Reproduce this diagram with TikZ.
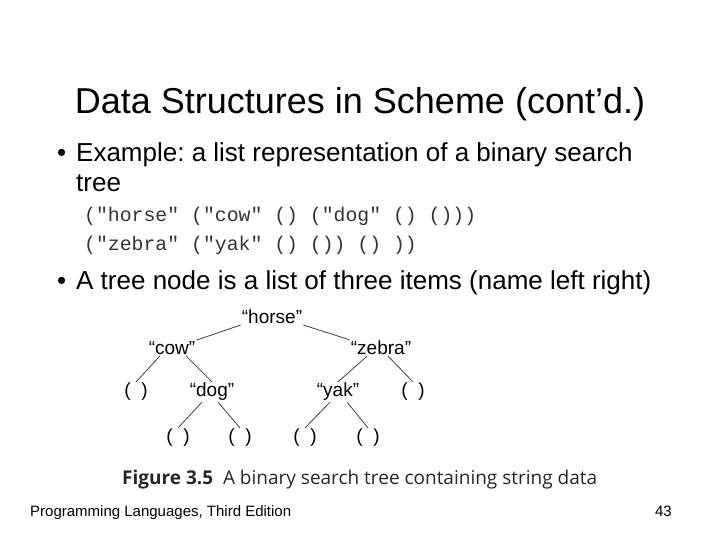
\documentclass[tikz,border=0pt]{standalone}
\usepackage{fontspec}
\setmainfont{Liberation Sans}
\setmonofont{Liberation Mono}
\newfontfamily\capfont{Open Sans}
\frenchspacing

\tikzset{
	slidetext/.style={anchor=base west, inner sep=0pt, font=\fontsize{26}{30}\selectfont},
	codetext/.style={anchor=base west, inner sep=0pt, font=\ttfamily\fontsize{19.8}{22}\selectfont, text=black!80},
	tnode/.style={inner sep=1pt, font=\fontsize{19}{21}\selectfont},
	tedge/.style={draw=black!75, line width=0.8pt}
}

\begin{document}
\begin{tikzpicture}[x=1pt, y=-1pt]
			\useasboundingbox (0, 0) rectangle (720, 540);
			\node[anchor=base, inner sep=0pt, font=\fontsize{36}{40}\selectfont](T1) at (360, 114){Data Structures in Scheme (cont’d.)};
			\node[slidetext](B1) at (57, 162){•};
			\node[slidetext](L1) at (76, 162){Example: a list representation of a binary search};
			\node[slidetext](L2) at (76, 192){tree};
			\node[codetext](C1) at (84, 222){("horse" ("cow" () ("dog" () ()))};
			\node[codetext](C2) at (84, 250){("zebra" ("yak" () ()) () ))};
			\node[slidetext](B2) at (57, 289){•};
			\node[slidetext](L3) at (76, 289){A tree node is a list of three items (name left right)};
			% tree
			\node[tnode](horse) at (272, 317){“horse”};
			\node[tnode](cow) at (172, 348){“cow”};
			\node[tnode](zebra) at (381, 348){“zebra”};
			\node[tnode](e1) at (136, 392){(\ \ )};
			\node[tnode](dog) at (212, 392){“dog”};
			\node[tnode](yak) at (338, 392){“yak”};
			\node[tnode](e2) at (413, 392){(\ \ )};
			\node[tnode](e3) at (178, 438){(\ \ )};
			\node[tnode](e4) at (240, 438){(\ \ )};
			\node[tnode](e5) at (305, 438){(\ \ )};
			\node[tnode](e6) at (368, 438){(\ \ )};
			\draw[tedge] (horse.west) ++(0, 8) coordinate(h1) (h1) -- (cow.north east);
			\draw[tedge] (horse.east) ++(0, 8) coordinate(h2) (h2) -- (zebra.north west);
			\draw[tedge] (cow.south) ++(-12, 0) coordinate(c1) (c1) -- (e1.north);
			\draw[tedge] (cow.south) ++(14, 0) coordinate(c2) (c2) -- (dog.north);
			\draw[tedge] (dog.south) ++(-10, 0) coordinate(d1) (d1) -- (e3.north);
			\draw[tedge] (dog.south) ++(6, 0) coordinate(d2) (d2) -- (e4.north);
			\draw[tedge] (zebra.south) ++(-14, 0) coordinate(z1) (z1) -- (yak.north);
			\draw[tedge] (zebra.south) ++(7, 0) coordinate(z2) (z2) -- (e2.north);
			\draw[tedge] (yak.south) ++(-8, 0) coordinate(y1) (y1) -- (e5.north);
			\draw[tedge] (yak.south) ++(9, 0) coordinate(y2) (y2) -- (e6.north);
			% caption and footer
			\node[anchor=base west, inner sep=0pt, font=\capfont\fontsize{19}{22}\selectfont, text=black!85](F1) at (122, 484){\textbf{Figure 3.5}\ \ A binary search tree containing string data};
			\node[anchor=base west, inner sep=0pt, font=\fontsize{15}{17}\selectfont](P1) at (30, 516){Programming Languages, Third Edition};
			\node[anchor=base east, inner sep=0pt, font=\fontsize{15}{17}\selectfont](P2) at (672, 516){43};
		\end{tikzpicture}
\end{document}
